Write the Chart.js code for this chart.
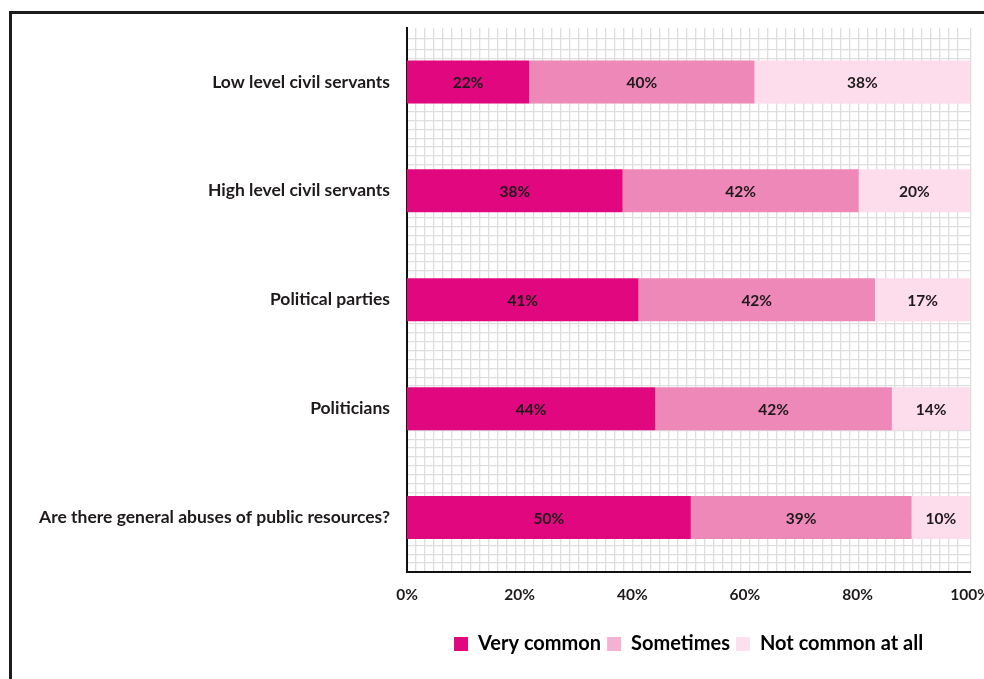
<!DOCTYPE html>
<html>
<head>
<meta charset="utf-8">
<script src="https://cdn.jsdelivr.net/npm/chart.js@4.4.0/dist/chart.umd.min.js"></script>
<style>
  html, body { margin: 0; padding: 0; background: #fff; overflow: hidden; }
  body { width: 984px; height: 679px; position: relative; }
  #frame { position: absolute; left: 9px; top: 11px; width: 1200px; height: 900px; border: 3px solid #1c1c1c; }
  #wrap { position: absolute; left: 0; top: 0; width: 1004px; height: 679px; }
</style>
</head>
<body>
<div id="frame"></div>
<div id="wrap"><canvas id="barChart"></canvas></div>
<script>
const categories = [
  'Low level civil servants',
  'High level civil servants',
  'Political parties',
  'Politicians',
  'Are there general abuses of public resources?',
];
const seriesNames = ['Very common', 'Sometimes', 'Not common at all'];
// shares, labels show them rounded
const veryCommon = [21.7, 38.3, 41.1, 44.1, 50.4];
const sometimes = [40.0, 41.9, 42.0, 42.0, 39.2];
const notCommon = [38.3, 19.8, 16.9, 13.9, 10.4];
const xTicks = [0, 20, 40, 60, 80, 100];

const barColors = ['#e1087f', '#ee88b8', '#fddcec'];
const legendColors = ['#e1087f', '#f4b1d2', '#fde0ee'];
const textColor = '#1e1a1b';
const fontFamily = 'Lato, "Open Sans", sans-serif';

// writes the rounded share in the middle of every segment
const segmentLabels = {
  id: 'segmentLabels',
  afterDatasetsDraw(chart) {
    const ctx = chart.ctx;
    ctx.save();
    ctx.font = `bold 15.5px ${fontFamily}`;
    ctx.fillStyle = textColor;
    ctx.textAlign = 'center';
    ctx.textBaseline = 'middle';
    chart.data.datasets.forEach((ds, i) => {
      chart.getDatasetMeta(i).data.forEach((bar, j) => {
        const p = bar.getCenterPoint();
        ctx.fillText(Math.round(ds.data[j]) + '%', p.x, p.y + 1);
      });
    });
    ctx.restore();
  },
};

const gridLook = { color: '#dedede', lineWidth: 1.3, drawTicks: false };

new Chart(document.getElementById('barChart'), {
  type: 'bar',
  data: {
    labels: categories,
    datasets: [
      { label: seriesNames[0], data: veryCommon, backgroundColor: barColors[0] },
      { label: seriesNames[1], data: sometimes, backgroundColor: barColors[1] },
      { label: seriesNames[2], data: notCommon, backgroundColor: barColors[2] },
    ],
  },
  options: {
    indexAxis: 'y',
    responsive: true,
    maintainAspectRatio: false,
    animation: false,
    categoryPercentage: 1,
    barPercentage: 0.395,
    layout: { padding: { top: 27, right: 0, bottom: 15, left: 0 } },
    scales: {
      x: {
        stacked: true,
        min: 0,
        max: 100,
        afterBuildTicks: s => {
          s.ticks = xTicks.map(v => ({ value: v }));
        },
        afterFit: s => {
          s.height = 56;
        },
        grid: { display: false, drawTicks: false },
        border: { display: true, color: '#111', width: 2 },
        ticks: {
          padding: 14,
          color: textColor,
          font: { family: fontFamily, size: 15.5, weight: 'bold' },
          callback: v => v + '%',
        },
      },
      y: {
        stacked: true,
        afterFit: s => {
          s.width = 407;
        },
        grid: { display: false, drawTicks: false },
        border: { display: true, color: '#111', width: 2 },
        ticks: {
          padding: 17,
          color: textColor,
          font: { family: fontFamily, size: 17.5, weight: 'bold' },
        },
      },
      // fine square pattern behind the bars
      gx: {
        type: 'linear',
        axis: 'x',
        position: 'top',
        min: 0,
        max: 62.4,
        z: -1,
        grid: gridLook,
        border: { display: false },
        ticks: { display: false, stepSize: 1 },
      },
      gy: {
        type: 'linear',
        axis: 'y',
        position: 'right',
        min: 0,
        max: 60.5,
        z: -1,
        grid: gridLook,
        border: { display: false },
        ticks: { display: false, stepSize: 1 },
      },
    },
    plugins: {
      legend: {
        position: 'bottom',
        fullSize: false,
        labels: {
          boxWidth: 14,
          boxHeight: 14,
          padding: 6,
          color: textColor,
          font: { family: fontFamily, size: 20, weight: 'bold' },
          generateLabels: chart =>
            chart.data.datasets.map((ds, i) => ({
              text: ds.label,
              fillStyle: legendColors[i],
              strokeStyle: legendColors[i],
              lineWidth: 0,
              hidden: false,
              datasetIndex: i,
            })),
        },
      },
      tooltip: { enabled: false },
    },
  },
  plugins: [segmentLabels],
});
</script>
</body>
</html>
